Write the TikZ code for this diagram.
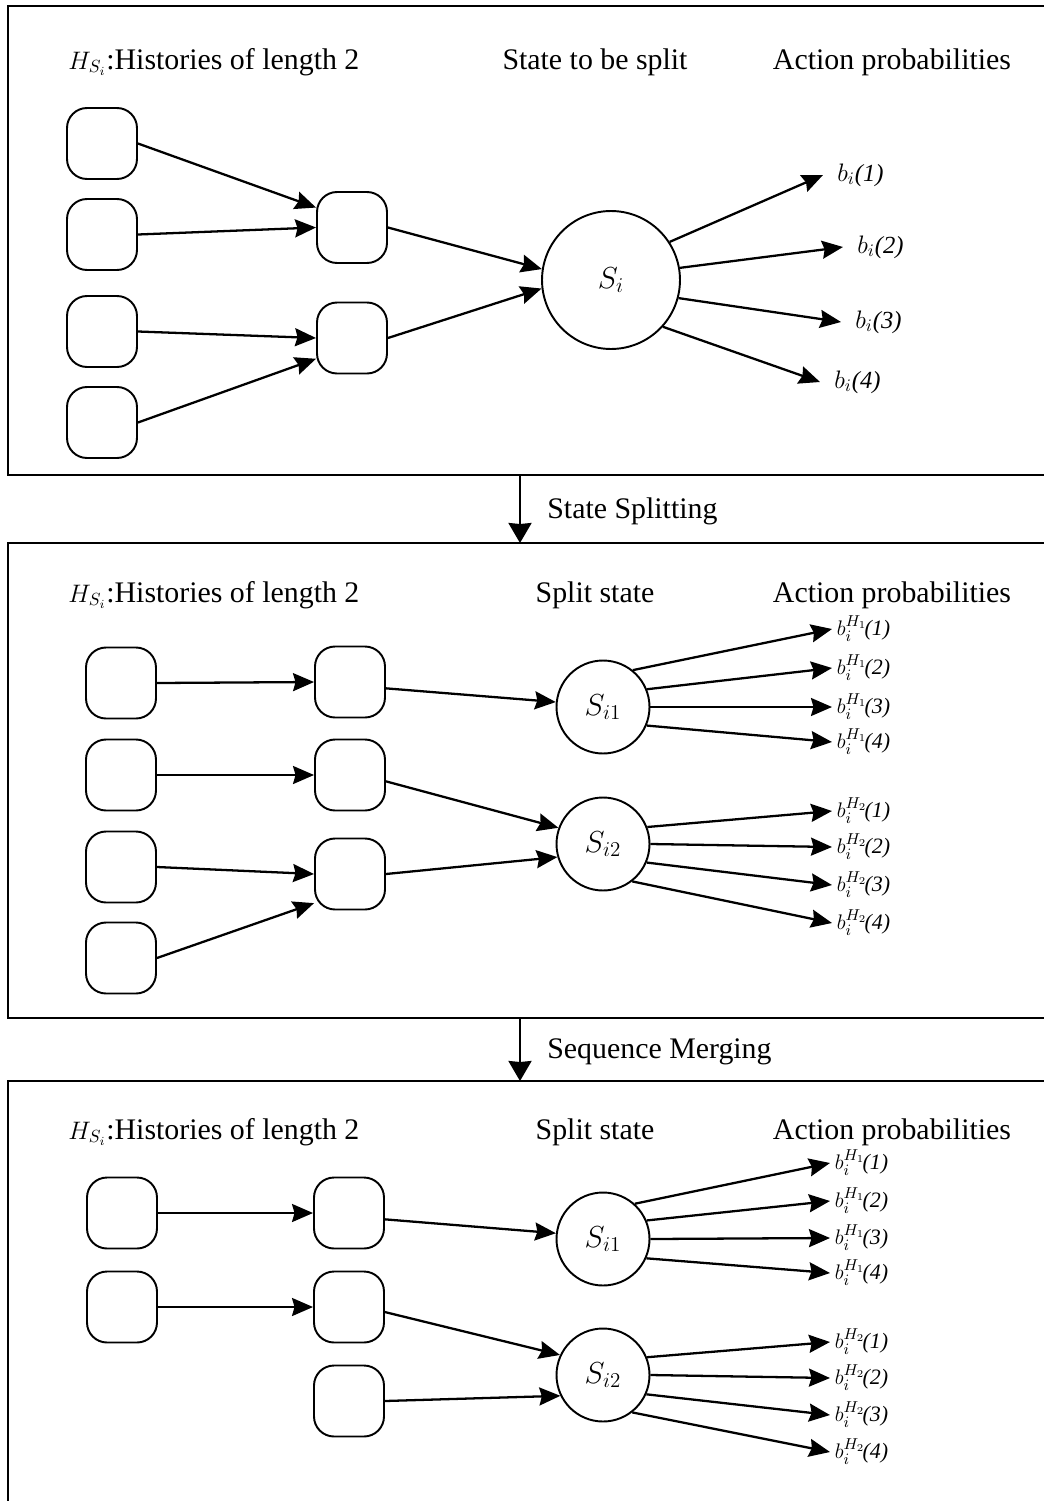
\documentclass[tikz,border=0pt]{standalone}
\usepackage{fontspec}
\setmainfont{Liberation Serif}
\usetikzlibrary{arrows.meta}
\tikzstyle{histNode}=[shape = rectangle, rounded corners = 0.4cm, minimum width = 1.4cm, minimum height = 1.42cm, inner sep = 0pt, draw, line width = 1.1pt]
\tikzstyle{bigState}=[shape = circle, minimum size = 2.76cm, inner sep = 0pt, draw, line width = 1.1pt, font = \fontsize{16.5}{19}\selectfont]
\tikzstyle{splitState}=[shape = circle, minimum size = 1.86cm, inner sep = 0pt, draw, line width = 1.1pt, font = \fontsize{16.5}{19}\selectfont]
\tikzstyle{headText}=[anchor = base, inner sep = 0pt, font = \fontsize{17}{20}\selectfont]
\tikzstyle{probText}=[anchor = west, inner xsep = 2.5pt, inner ysep = 0pt, font = \fontsize{12.5}{15}\selectfont]
\tikzstyle{flow}=[-{Stealth[length = 0.42cm, width = 0.36cm, inset = 0.05cm]}, line width = 1.3pt]

\begin{document}
\begin{tikzpicture}[x = 0.02cm, y = -0.02cm]
\useasboundingbox (0,0) rectangle (1044,1501);
\clip (0,0) rectangle (1044,1501);
\tikzstyle{panel}=[line width = 1.4pt]
\tikzstyle{flowDown}=[-{Stealth[length = 0.4cm, width = 0.46cm, inset = 0.02cm]}, line width = 1.3pt]
\tikzstyle{bigProb}=[probText, inner xsep = 8pt, font = \fontsize{14}{16}\selectfont]

\draw[panel] (8,6) rectangle (1060,475);
\node[headText, anchor = base west] (histA) at (68,69) {{\fontsize{14.4}{16}\selectfont$H_{S_i}$}:Histories of length 2};
\node[headText] (stateA) at (595,69) {State to be split};
\node[headText] (actA) at (892,69) {Action probabilities};
\node[histNode] (hA1) at (102,143.5) {};
\node[histNode] (hA2) at (102,234.5) {};
\node[histNode] (hA3) at (102,331.5) {};
\node[histNode] (hA4) at (102,422.5) {};
\node[histNode] (mA1) at (352,227.5) {};
\node[histNode] (mA2) at (352,338) {};
\node[bigState] (sA) at (611,280) {$S_i$};
\node[bigProb] (pA1) at (823,175) {$b_i$\textit{(1)}};
\node[bigProb] (pA2) at (843,247) {$b_i$\textit{(2)}};
\node[bigProb] (pA3) at (841,322) {$b_i$\textit{(3)}};
\node[bigProb] (pA4) at (820,382) {$b_i$\textit{(4)}};
\draw[flow] (hA1.east) -- (mA1.151);
\draw[flow] (hA2.east) -- (mA1.west);
\draw[flow] (hA3.east) -- (mA2.west);
\draw[flow] (hA4.east) -- (mA2.210);
\draw[flow] (mA1.east) -- (sA.171);
\draw[flow] (mA2.east) -- (sA.187);
\draw[flow] (sA.33) -- (pA1.west);
\draw[flow] (sA.10) -- (pA2.west);
\draw[flow] (sA.-15) -- (pA3.west);
\draw[flow] (sA.-42) -- (pA4.west);

\coordinate (cutA) at (520,475);
\coordinate (cutB) at (520,543);
\draw[flowDown] (cutA) -- (cutB);
\node[headText, anchor = base west] (splitLab) at (547,518) {State Splitting};

\draw[panel] (8,543) rectangle (1060,1018);
\node[headText, anchor = base west] (histB) at (68,602) {{\fontsize{14.4}{16}\selectfont$H_{S_i}$}:Histories of length 2};
\node[headText] (stateB) at (595,602) {Split state};
\node[headText] (actB) at (892,602) {Action probabilities};
\node[histNode] (hB1) at (121,683) {};
\node[histNode] (hB2) at (121,775) {};
\node[histNode] (hB3) at (121,867) {};
\node[histNode] (hB4) at (121,958) {};
\node[histNode] (mB1) at (350,682) {};
\node[histNode] (mB2) at (350,775) {};
\node[histNode] (mB3) at (350,874) {};
\node[splitState] (sB1) at (603,707) {$S_{i1}$};
\node[splitState] (sB2) at (603,844) {$S_{i2}$};
\node[probText] (pB1) at (832,629) {$b_i^{H_1}$\kern-1.5pt\textit{(1)}};
\node[probText] (pB2) at (832,668) {$b_i^{H_1}$\kern-1.5pt\textit{(2)}};
\node[probText] (pB3) at (832,707) {$b_i^{H_1}$\kern-1.5pt\textit{(3)}};
\node[probText] (pB4) at (832,742) {$b_i^{H_1}$\kern-1.5pt\textit{(4)}};
\node[probText] (pB5) at (832,811) {$b_i^{H_2}$\kern-1.5pt\textit{(1)}};
\node[probText] (pB6) at (832,847) {$b_i^{H_2}$\kern-1.5pt\textit{(2)}};
\node[probText] (pB7) at (832,885) {$b_i^{H_2}$\kern-1.5pt\textit{(3)}};
\node[probText] (pB8) at (832,923) {$b_i^{H_2}$\kern-1.5pt\textit{(4)}};
\draw[flow] (hB1.east) -- (mB1.west);
\draw[flow] (hB2.east) -- (mB2.west);
\draw[flow] (hB3.east) -- (mB3.west);
\draw[flow] (hB4.east) -- (mB3.219);
\draw[flow] (mB1.-10) -- (sB1.174);
\draw[flow] (mB2.-10) -- (sB2.160);
\draw[flow] (mB3.east) -- (sB2.196);
\draw[flow] (sB1.51) -- (pB1.west);
\draw[flow] (sB1.22) -- (pB2.west);
\draw[flow] (sB1.0) -- (pB3.west);
\draw[flow] (sB1.-23) -- (pB4.west);
\draw[flow] (sB2.21) -- (pB5.west);
\draw[flow] (sB2.0) -- (pB6.west);
\draw[flow] (sB2.-23) -- (pB7.west);
\draw[flow] (sB2.-52) -- (pB8.west);

\coordinate (cutC) at (520,1018);
\coordinate (cutD) at (520,1081);
\draw[flowDown] (cutC) -- (cutD);
\node[headText, anchor = base west] (mergeLab) at (547,1058) {Sequence Merging};

\draw[panel] (8,1081) rectangle (1060,1520);
\node[headText, anchor = base west] (histC) at (68,1139) {{\fontsize{14.4}{16}\selectfont$H_{S_i}$}:Histories of length 2};
\node[headText] (stateC) at (595,1139) {Split state};
\node[headText] (actC) at (892,1139) {Action probabilities};
\node[histNode] (hC1) at (122,1213) {};
\node[histNode] (hC2) at (122,1307) {};
\node[histNode] (mC1) at (349,1213) {};
\node[histNode] (mC2) at (349,1307) {};
\node[histNode] (mC3) at (349,1401) {};
\node[splitState] (sC1) at (603,1239) {$S_{i1}$};
\node[splitState] (sC2) at (603,1375) {$S_{i2}$};
\node[probText] (pC1) at (830,1163) {$b_i^{H_1}$\kern-1.5pt\textit{(1)}};
\node[probText] (pC2) at (830,1201) {$b_i^{H_1}$\kern-1.5pt\textit{(2)}};
\node[probText] (pC3) at (830,1238) {$b_i^{H_1}$\kern-1.5pt\textit{(3)}};
\node[probText] (pC4) at (830,1273) {$b_i^{H_1}$\kern-1.5pt\textit{(4)}};
\node[probText] (pC5) at (830,1342) {$b_i^{H_2}$\kern-1.5pt\textit{(1)}};
\node[probText] (pC6) at (830,1378) {$b_i^{H_2}$\kern-1.5pt\textit{(2)}};
\node[probText] (pC7) at (830,1415) {$b_i^{H_2}$\kern-1.5pt\textit{(3)}};
\node[probText] (pC8) at (830,1452) {$b_i^{H_2}$\kern-1.5pt\textit{(4)}};
\draw[flow] (hC1.east) -- (mC1.west);
\draw[flow] (hC2.east) -- (mC2.west);
\draw[flow] (mC1.-10) -- (sC1.173);
\draw[flow] (mC2.-8) -- (sC2.155);
\draw[flow] (mC3.east) -- (sC2.206);
\draw[flow] (sC1.48) -- (pC1.west);
\draw[flow] (sC1.23) -- (pC2.west);
\draw[flow] (sC1.0) -- (pC3.west);
\draw[flow] (sC1.-24) -- (pC4.west);
\draw[flow] (sC2.22) -- (pC5.west);
\draw[flow] (sC2.0) -- (pC6.west);
\draw[flow] (sC2.-24) -- (pC7.west);
\draw[flow] (sC2.-52) -- (pC8.west);
\end{tikzpicture}
\end{document}
